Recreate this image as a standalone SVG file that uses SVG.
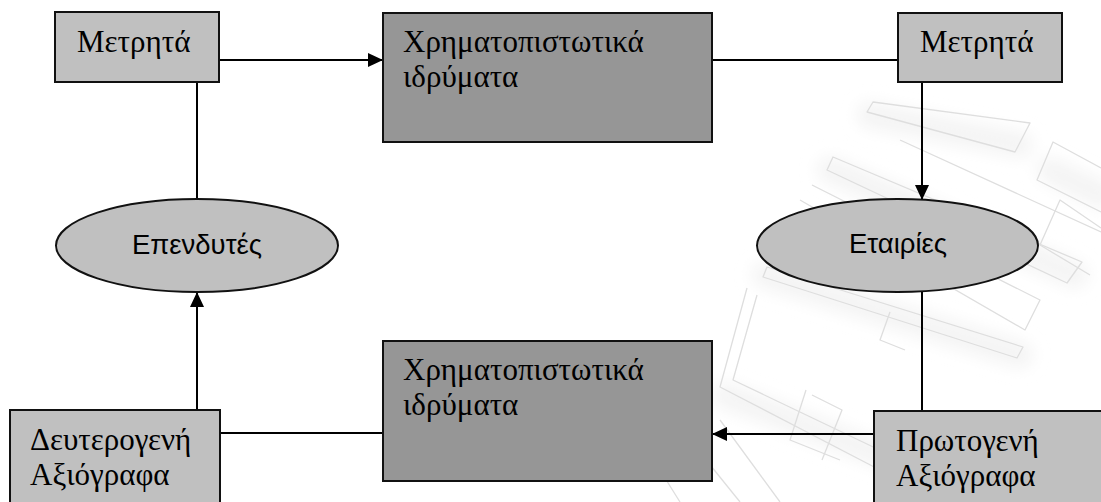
<svg xmlns="http://www.w3.org/2000/svg" width="1101" height="502" viewBox="0 0 1101 502">
  <defs>
    <style>
      .box-light { fill: #c0c0c0; stroke: #111; stroke-width: 2; }
      .box-dark { fill: #969696; stroke: #111; stroke-width: 2; }
      .oval { fill: #c0c0c0; stroke: #111; stroke-width: 2; }
      .serif { font-family: "Liberation Serif", "Times New Roman", serif; font-size: 31px; fill: #000; }
      .sans { font-family: "Liberation Sans", Arial, sans-serif; font-size: 27.5px; fill: #000; text-anchor: middle; }
      .link { stroke: #000; stroke-width: 2; fill: none; }
      .wm { fill: none; stroke: #dedede; stroke-width: 1.3; stroke-linejoin: round; }
      .wm-haze { fill: none; stroke: #f4f4f4; stroke-width: 26; stroke-linecap: round; }
    </style>
    <marker id="arrow" markerUnits="userSpaceOnUse" markerWidth="15" markerHeight="14" refX="15" refY="7" orient="auto">
      <path d="M0,0 L15,7 L0,14 Z" fill="#000"/>
    </marker>
    <filter id="soft" x="-20%" y="-20%" width="140%" height="140%">
      <feGaussianBlur stdDeviation="8"/>
    </filter>
  </defs>

  <rect width="1101" height="502" fill="#fff"/>

  <!-- faint background emblem -->
  <g id="watermark">
    <g filter="url(#soft)">
      <path class="wm-haze" d="M870,115 L1020,145"/>
      <path class="wm-haze" d="M830,170 L1075,275"/>
      <path class="wm-haze" d="M765,275 L1020,355"/>
      <path class="wm-haze" d="M725,395 L1000,500"/>
      <path class="wm-haze" d="M1050,170 L1101,195"/>
    </g>
    <polygon class="wm" points="873,102 1030,123 1015,152 867,112"/>
    <polyline class="wm" points="1101,168 1053,142 1037,180 1101,212"/>
    <polyline class="wm" points="1101,228 1060,200 1040,245 1090,275"/>
    <polygon class="wm" points="833,157 1082,262 1067,283 827,170"/>
    <polyline class="wm" points="900,140 1101,232"/>
    <polyline class="wm" points="812,185 1040,300 1025,330 800,200"/>
    <polygon class="wm" points="767,267 1023,347 1017,358 763,277"/>
    <polyline class="wm" points="747,288 720,387 880,470"/>
    <polyline class="wm" points="757,295 733,380 890,455"/>
    <polyline class="wm" points="890,312 880,340 905,350"/>
    <polyline class="wm" points="806,390 790,440 840,460"/>
    <polyline class="wm" points="812,395 842,410 822,460"/>
    <polyline class="wm" points="720,420 780,502"/>
    <polyline class="wm" points="690,440 740,502"/>
    <polyline class="wm" points="660,470 680,502"/>
    <polyline class="wm" points="950,420 1080,480"/>
  </g>

  <!-- connectors -->
  <g id="connectors">
    <line class="link" x1="219" y1="60" x2="383" y2="60" marker-end="url(#arrow)"/>
    <line class="link" x1="712" y1="60" x2="898" y2="60"/>
    <line class="link" x1="922" y1="82" x2="922" y2="200" marker-end="url(#arrow)"/>
    <line class="link" x1="922" y1="291" x2="922" y2="411"/>
    <line class="link" x1="874" y1="434" x2="712" y2="434" marker-end="url(#arrow)"/>
    <line class="link" x1="383" y1="433" x2="220" y2="433"/>
    <line class="link" x1="197" y1="410" x2="197" y2="292" marker-end="url(#arrow)"/>
    <line class="link" x1="197" y1="199" x2="197" y2="82"/>
  </g>

  <!-- cash held by investors -->
  <g id="cash-left">
    <rect class="box-light" x="55" y="12" width="164" height="70"/>
    <text class="serif" x="77" y="52">Μετρητά</text>
  </g>

  <!-- financial institutions, top -->
  <g id="institutions-top">
    <rect class="box-dark" x="383" y="13" width="329" height="129"/>
    <text class="serif" x="403" y="52">Χρηματοπιστωτικά</text>
    <text class="serif" x="403" y="87">ιδρύματα</text>
  </g>

  <!-- cash reaching companies -->
  <g id="cash-right">
    <rect class="box-light" x="898" y="13" width="164" height="69"/>
    <text class="serif" x="920" y="52">Μετρητά</text>
  </g>

  <g id="investors">
    <ellipse class="oval" cx="197" cy="245.5" rx="141" ry="46.5"/>
    <text class="sans" x="197" y="254">Επενδυτές</text>
  </g>

  <g id="companies">
    <ellipse class="oval" cx="897.5" cy="245.5" rx="140.5" ry="46.5"/>
    <text class="sans" x="898" y="253">Εταιρίες</text>
  </g>

  <!-- financial institutions, bottom -->
  <g id="institutions-bottom">
    <rect class="box-dark" x="383" y="341" width="329" height="140"/>
    <text class="serif" x="403" y="380">Χρηματοπιστωτικά</text>
    <text class="serif" x="403" y="415">ιδρύματα</text>
  </g>

  <g id="secondary-securities">
    <rect class="box-light" x="10" y="410" width="210" height="110"/>
    <text class="serif" x="30" y="450">Δευτερογενή</text>
    <text class="serif" x="30" y="485">Αξιόγραφα</text>
  </g>

  <g id="primary-securities">
    <rect class="box-light" x="874" y="411" width="240" height="110"/>
    <text class="serif" x="896" y="451">Πρωτογενή</text>
    <text class="serif" x="896" y="486">Αξιόγραφα</text>
  </g>
</svg>
